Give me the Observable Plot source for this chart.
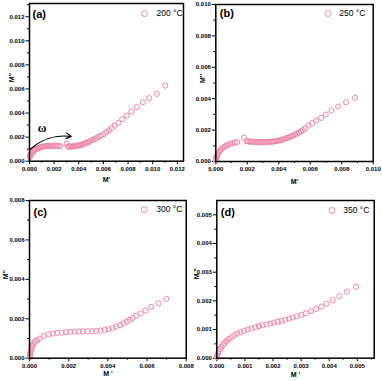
<!DOCTYPE html>
<html><head><meta charset="utf-8">
<script src="https://cdn.jsdelivr.net/npm/d3@7"></script>
<script src="https://cdn.jsdelivr.net/npm/@observablehq/plot@0.6"></script>
<style>
body{margin:0;background:#fff;}
#wrap{position:relative;width:382px;height:381px;overflow:hidden;}
#wrap svg{position:absolute;overflow:visible;}
</style></head><body><div id="wrap"></div>
<script>
// Panel (a) 200 °C
const a_x = [0.00002,0.00005,0.0001,0.00017,0.00025,0.00034,0.00044,0.00054,0.00064,0.00075,0.00086,0.00097,0.00108,0.0012,0.00132,0.00144,0.00156,0.00168,0.0018,0.00192,0.00205,0.00218,0.00232,0.00248,
  0.00302,
  0.00312,0.00322,0.00332,0.00342,0.00352,0.00362,0.00372,0.00382,0.00393,0.00404,0.00415,0.00427,0.00439,0.00451,0.00464,0.00477,0.0049,0.00504,0.00518,0.00533,0.00548,0.00564,0.0058,0.00602,0.00623,0.00645,0.00667,0.00691,0.00721,0.00753,0.00789,0.00827,0.00871,0.0092,0.00971,0.01034,0.01102];
const a_y = [0.00033,0.00045,0.00056,0.00066,0.00075,0.00084,0.00092,0.00099,0.00105,0.0011,0.00114,0.00118,0.00121,0.00123,0.00125,0.00126,0.00127,0.00127,0.00128,0.00128,0.00128,0.00128,0.00127,0.00126,
  0.00145,
  0.00121,0.00121,0.00121,0.00122,0.00123,0.00124,0.00125,0.00127,0.00129,0.00132,0.00135,0.00139,0.00143,0.00148,0.00153,0.00159,0.00165,0.00172,0.00179,0.00187,0.00195,0.00203,0.00212,0.00224,0.00241,0.00257,0.00274,0.00296,0.00319,0.00349,0.00379,0.00412,0.00448,0.0049,0.00523,0.00559,0.00628];
// Panel (b) 250 °C
const b_x = [0.00001,0.00002,0.00004,0.00007,0.00011,0.00016,0.00022,0.00029,0.00037,0.00046,0.00056,0.00067,0.00079,0.00092,0.00106,0.00121,0.00137,
  0.0018,
  0.00195,0.00206,0.00217,0.00228,0.00239,0.0025,0.00261,0.00272,0.00283,0.00294,0.00305,0.00316,0.00327,0.00338,0.00349,0.0036,0.00371,0.00382,0.00393,0.00404,0.00415,0.00426,0.00437,0.00448,0.00459,0.0047,0.00481,0.00492,0.00504,0.00516,0.00528,0.00541,0.00554,0.00568,0.00589,0.00612,0.00639,0.00669,0.00698,0.00735,0.00777,0.00828,0.00885];
const b_y = [0.00005,0.00015,0.00027,0.00037,0.00046,0.00055,0.00064,0.00072,0.0008,0.00088,0.00095,0.00101,0.00107,0.00112,0.00116,0.0012,0.00124,
  0.00151,
  0.0013,0.00128,0.00127,0.00126,0.00125,0.00125,0.00124,0.00124,0.00124,0.00124,0.00124,0.00124,0.00125,0.00125,0.00126,0.00127,0.00128,0.0013,0.00132,0.00134,0.00137,0.0014,0.00144,0.00148,0.00152,0.00156,0.00161,0.00166,0.00172,0.00178,0.00185,0.00192,0.002,0.00212,0.00229,0.00244,0.00261,0.00278,0.00299,0.00325,0.0035,0.00378,0.00406];
// Panel (c) 300 °C
const c_x = [0.00001,0.00002,0.00004,0.00006,0.00009,0.00012,0.00015,0.0002,0.00027,0.00038,0.00051,0.00073,0.00097,0.0012,0.00142,0.00164,0.00186,0.00208,0.0023,0.00252,0.00274,0.00296,0.00318,0.0034,0.00362,0.00384,0.00404,0.00424,0.00443,0.00462,0.0048,0.00497,0.00512,0.00526,0.00545,0.00567,0.00592,0.00621,0.00658,0.00699];
const c_y = [0.00005,0.00014,0.00024,0.00034,0.00043,0.00054,0.00065,0.00074,0.00082,0.00091,0.00099,0.00112,0.0012,0.00125,0.00128,0.0013,0.00132,0.00134,0.00135,0.00136,0.00136,0.00136,0.00137,0.00138,0.0014,0.00143,0.00147,0.00153,0.0016,0.00168,0.00177,0.00186,0.00195,0.00204,0.00216,0.00228,0.00242,0.0026,0.00278,0.00301];
// Panel (d) 350 °C
const d_x = [0.00001,0.00002,0.00004,0.00007,0.00011,0.00016,0.00022,0.00028,0.00035,0.00043,0.00052,0.00062,0.00073,0.00085,0.00097,0.0011,0.00123,0.00137,0.0015,0.00163,0.00177,0.0019,0.00203,0.00217,0.0023,0.00244,0.00257,0.0027,0.00285,0.00301,0.00317,0.00335,0.00354,0.00372,0.0039,0.00412,0.00436,0.00463,0.00495];
const d_y = [0.00004,0.0001,0.00017,0.00025,0.00032,0.00039,0.00046,0.00053,0.0006,0.00067,0.00074,0.0008,0.00086,0.00091,0.00096,0.001,0.00104,0.00108,0.00112,0.00115,0.00118,0.00121,0.00124,0.00127,0.0013,0.00134,0.00138,0.00142,0.00146,0.00151,0.00157,0.00164,0.00172,0.0018,0.0019,0.00202,0.00216,0.00232,0.00249];

const panelLabels = ["(a)", "(b)", "(c)", "(d)"];
const legendLabels = ["200 °C", "250 °C", "300 °C", "350 °C"];
const xLabels = ["M'", "M'", "M '", "M '"];
const yLabels = ["M''", "M''", "M''", "M ''"];
// omega arrow annotation in panel (a)
const arrowFrom = [0.00004, 0.00097];
const arrowTo = [0.00338, 0.00205];
const omegaPos = [0.00102, 0.00271];

const pink = "#ef86a6";
const FONT = "Liberation Sans, Arial, sans-serif";
const fmt = d3.format(".3f");

function panel(i, xs, ys, cfg) {
  const maj = (max, step) => d3.range(0, max + step / 2, step);
  const xMaj = maj(cfg.xTickMax, cfg.step), yMaj = maj(cfg.yTickMax, cfg.step);
  const xMin = d3.range(cfg.step / 2, cfg.xd[1], cfg.step);
  const yMin = d3.range(cfg.step / 2, cfg.yd[1], cfg.step);
  const marks = [
    Plot.axisX(xMin, {tickSize: 2, tickFormat: () => "", strokeWidth: 1}),
    Plot.axisY(yMin, {tickSize: 2, tickFormat: () => "", strokeWidth: 1}),
    Plot.axisX(xMaj, {tickSize: 3.5, tickPadding: 2, tickFormat: fmt, fontSize: 6, fontWeight: "bold", strokeWidth: 1, label: null}),
    Plot.axisY(yMaj, {tickSize: 3.5, tickPadding: 1.5, tickFormat: fmt, fontSize: 6, fontWeight: "bold", strokeWidth: 1, label: null}),
    Plot.dot({length: xs.length}, {x: xs, y: ys, r: 2.6, stroke: pink, strokeWidth: 1, fill: "none"}),
    Plot.frame({stroke: "black", strokeWidth: 1.5}),
    Plot.text([panelLabels[i]], {frameAnchor: "top-left", dx: cfg.pl[0], dy: cfg.pl[1], lineAnchor: "middle", fontSize: 11, fontWeight: "bold", textAnchor: "start"}),
    Plot.dot([0], {frameAnchor: "top-right", dx: cfg.lg[0], dy: cfg.lg[1], r: 3, stroke: pink, strokeWidth: 1, fill: "none"}),
    Plot.text([legendLabels[i]], {frameAnchor: "top-right", dx: cfg.lg[2], dy: cfg.lg[1], lineAnchor: "middle", fontSize: 8.5, textAnchor: "start"}),
    Plot.text([xLabels[i]], {frameAnchor: "bottom", dy: cfg.xl, lineAnchor: "middle", fontSize: 7, fontWeight: "bold"}),
    Plot.text([yLabels[i]], {frameAnchor: "left", dx: cfg.yl, lineAnchor: "middle", rotate: -90, fontSize: 7, fontWeight: "bold"})
  ];
  if (cfg.extra) marks.push(...cfg.extra);
  const svg = Plot.plot({
    width: cfg.w, height: cfg.h,
    marginLeft: cfg.m[0], marginRight: cfg.m[1], marginTop: cfg.m[2], marginBottom: cfg.m[3],
    x: {domain: cfg.xd, axis: null},
    y: {domain: cfg.yd, axis: null},
    style: {fontFamily: FONT, background: "transparent", overflow: "visible"},
    marks
  });
  svg.style.left = cfg.pos[0] + "px";
  svg.style.top = cfg.pos[1] + "px";
  document.getElementById("wrap").appendChild(svg);
}

panel(0, a_x, a_y, {
  pos: [0, 0], w: 191, h: 190, m: [29, 8, 3, 29.3],
  xd: [0, 0.0125], yd: [0, 0.0131], xTickMax: 0.012, yTickMax: 0.012, step: 0.002,
  pl: [3, 11], lg: [-39, 10, -27], xl: 19, yl: -18,
  extra: [
    Plot.arrow({length: 1}, {x1: [arrowFrom[0]], y1: [arrowFrom[1]], x2: [arrowTo[0]], y2: [arrowTo[1]], bend: 25, stroke: "black", strokeWidth: 1.2, headLength: 7}),
    Plot.text(["ω"], {x: [omegaPos[0]], y: [omegaPos[1]], fontSize: 12, fontWeight: "bold", fontFamily: "Liberation Serif, serif"})
  ]
});
panel(1, b_x, b_y, {
  pos: [191, 0], w: 191, h: 190, m: [24.3, 9.3, 4, 29],
  xd: [0, 0.010], yd: [0, 0.010], xTickMax: 0.010, yTickMax: 0.010, step: 0.002,
  pl: [4, 9], lg: [-45, 9, -34], xl: 20, yl: -13
});
panel(2, c_x, c_y, {
  pos: [0, 190], w: 191, h: 191, m: [29, 5.3, 10, 23.3],
  xd: [0, 0.008], yd: [0, 0.008], xTickMax: 0.008, yTickMax: 0.008, step: 0.002,
  pl: [4, 12], lg: [-42, 9, -30], xl: 15.5, yl: -24
});
panel(3, d_x, d_y, {
  pos: [191, 190], w: 191, h: 191, m: [25.3, 8.3, 10, 23.3],
  xd: [0, 0.0056], yd: [0, 0.0055], xTickMax: 0.005, yTickMax: 0.005, step: 0.001,
  pl: [4, 12], lg: [-42, 10, -31], xl: 17, yl: -20
});
</script></body></html>
